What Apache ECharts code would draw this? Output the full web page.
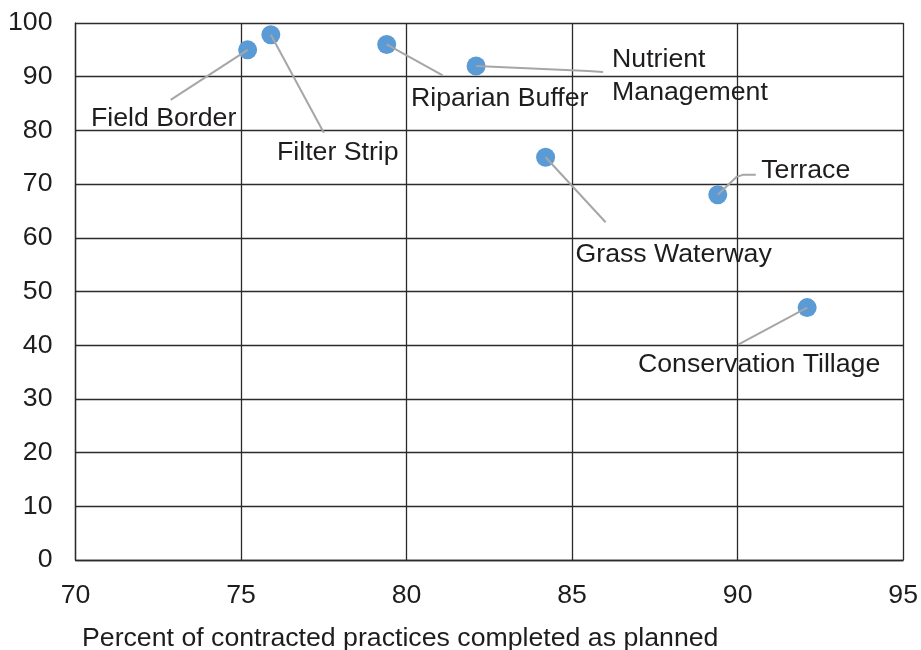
<!DOCTYPE html>
<html>
<head>
<meta charset="utf-8">
<script src="https://cdn.jsdelivr.net/npm/echarts@6/dist/echarts.min.js"></script>
<style>
  html, body { margin: 0; padding: 0; background: #fff; }
  #chart { width: 921px; height: 650px; }
</style>
</head>
<body>
<div id="chart"></div>
<script>
// Conservation practices: share completed as planned (x) vs. second score (y)
const practices = ['Field Border', 'Filter Strip', 'Riparian Buffer', 'Nutrient\nManagement',
                   'Grass Waterway', 'Terrace', 'Conservation Tillage'];
const completedPct = [75.2, 75.9, 79.4, 82.1, 84.2, 89.4, 92.1];
const yScore = [95, 97.8, 96, 92, 75, 68, 47];

const xTicks = { min: 70, max: 95, interval: 5 };
const yTicks = { min: 0, max: 100, interval: 10 };

// Label placement relative to each point's centre (pixels)
const labelOffsets = [
  { dx: -84, dy: 69, align: 'center' },
  { dx: 67, dy: 118, align: 'center' },
  { dx: 113, dy: 54, align: 'center' },
  { dx: 136, dy: 10, align: 'left' },
  { dx: 128, dy: 97, align: 'center' },
  { dx: 88, dy: -24, align: 'center' },
  { dx: -48, dy: 57, align: 'center' }
];

// Leader-line bend points relative to each point's centre (pixels)
const leaderPaths = [
  [[-77, 50]],
  [[53, 98]],
  [[56, 31]],
  [[112, 5], [127, 6]],
  [[60, 65]],
  [[19, -18], [25, -20], [38, -20]],
  [[-69, 37]]
];

const FONT = '"Liberation Sans", Arial, Helvetica, sans-serif';
const FS = 26.7;
const TEXT = '#1f1c1d';
const GRID = '#2b2b2b';

const points = completedPct.map((x, i) => ({ value: [x, yScore[i]], name: practices[i] }));

const chart = echarts.init(document.getElementById('chart'), null, { renderer: 'canvas' });

chart.setOption({
  backgroundColor: '#ffffff',
  animation: false,
  title: {
    text: 'Percent of contracted practices completed as planned',
    left: 82,
    top: 625,
    padding: 0,
    textStyle: { fontFamily: FONT, fontSize: FS, fontWeight: 'normal', color: TEXT }
  },
  grid: { left: 75.5, top: 23, right: 17, bottom: 90, containLabel: false },
  xAxis: {
    type: 'value',
    min: xTicks.min, max: xTicks.max, interval: xTicks.interval,
    axisLine: { show: true, lineStyle: { color: GRID, width: 1.3 } },
    axisTick: { show: false },
    axisLabel: { fontFamily: FONT, fontSize: FS, color: TEXT, margin: 22 },
    splitLine: { show: true, lineStyle: { color: GRID, width: 1.3 } }
  },
  yAxis: {
    type: 'value',
    min: yTicks.min, max: yTicks.max, interval: yTicks.interval,
    axisLine: { show: true, lineStyle: { color: GRID, width: 1.3 } },
    axisTick: { show: false },
    axisLabel: { fontFamily: FONT, fontSize: FS, color: TEXT, margin: 23 },
    splitLine: { show: true, lineStyle: { color: GRID, width: 1.3 } }
  },
  series: [
    {
      type: 'scatter',
      symbolSize: 19,
      itemStyle: { color: '#5b9bd5', opacity: 1 },
      data: points,
      label: {
        show: true,
        formatter: p => p.name,
        fontFamily: FONT,
        fontSize: FS,
        lineHeight: 33,
        color: TEXT
      },
      labelLayout: function (params) {
        const o = labelOffsets[params.dataIndex];
        const r = params.rect;
        const cx = r.x + r.width / 2;
        const cy = r.y + r.height / 2;
        const w = params.labelRect.width;
        let x = cx + o.dx;
        if (o.align === 'center') x -= w / 2;
        return { x: x, y: cy + o.dy, align: 'left', verticalAlign: 'middle' };
      },
      z: 2
    },
    {
      // leader lines from each point towards its label
      type: 'custom',
      data: points,
      silent: true,
      z: 3,
      renderItem: function (params, api) {
        const c = api.coord([api.value(0), api.value(1)]);
        const pts = [c].concat(leaderPaths[params.dataIndex].map(d => [c[0] + d[0], c[1] + d[1]]));
        return {
          type: 'polyline',
          shape: { points: pts },
          style: { stroke: '#a6a6a6', lineWidth: 2, fill: null, lineJoin: 'round' }
        };
      }
    }
  ]
});
</script>
</body>
</html>
